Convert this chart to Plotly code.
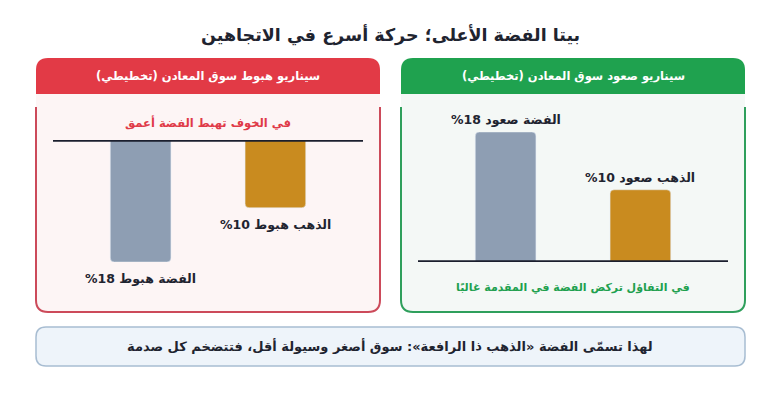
import plotly.graph_objects as go

# The page body has an 8px default margin; size the figure so the page is exactly 780x403.
OFF = 8
W, H = 780 - 2 * OFF, 403 - 2 * OFF
RLM = "\u200f"

# ---- data ----
categories = ["الفضة", "الذهب"]
down_values = [-18, -10]
up_values = [18, 10]
bar_colors = ["#8e9eb3", "#c98b1f"]

title_text = "بيتا الفضة الأعلى؛ حركة أسرع في الاتجاهين"
left_header = "سيناريو هبوط سوق المعادن (تخطيطي)"
right_header = "سيناريو صعود سوق المعادن (تخطيطي)"
left_note = "في الخوف تهبط الفضة أعمق"
right_note = "في التفاؤل تركض الفضة في المقدمة غالبًا"
bottom_text = "لهذا تسمّى الفضة «الذهب ذا الرافعة»: سوق أصغر وسيولة أقل، فتتضخم كل صدمة"
down_word = "هبوط"
up_word = "صعود"

FONT = "DejaVu Sans, Noto Sans, sans-serif"
DARK = "#1f2430"


def rtl(s):
    return RLM + s + RLM


def px(x):
    return (x - OFF) / W


def py(y):
    return 1 - (y - OFF) / H


def rpath(x0, y0, x1, y1, rtl_=0, rtr=0, rbr=0, rbl=0):
    pts = []
    pts.append(f"M {px(x0 + rtl_)},{py(y0)}")
    pts.append(f"L {px(x1 - rtr)},{py(y0)}")
    if rtr:
        pts.append(f"Q {px(x1)},{py(y0)} {px(x1)},{py(y0 + rtr)}")
    pts.append(f"L {px(x1)},{py(y1 - rbr)}")
    if rbr:
        pts.append(f"Q {px(x1)},{py(y1)} {px(x1 - rbr)},{py(y1)}")
    pts.append(f"L {px(x0 + rbl)},{py(y1)}")
    if rbl:
        pts.append(f"Q {px(x0)},{py(y1)} {px(x0)},{py(y1 - rbl)}")
    pts.append(f"L {px(x0)},{py(y0 + rtl_)}")
    if rtl_:
        pts.append(f"Q {px(x0)},{py(y0)} {px(x0 + rtl_)},{py(y0)}")
    pts.append("Z")
    return " ".join(pts)


def open_border(x0, ytop, x1, y1, r):
    return (f"M {px(x0)},{py(ytop)} L {px(x0)},{py(y1 - r)} "
            f"Q {px(x0)},{py(y1)} {px(x0 + r)},{py(y1)} "
            f"L {px(x1 - r)},{py(y1)} Q {px(x1)},{py(y1)} {px(x1)},{py(y1 - r)} "
            f"L {px(x1)},{py(ytop)}")


fig = go.Figure()

xpos = list(range(len(categories)))
fig.add_trace(go.Bar(x=xpos, y=down_values, marker=dict(color=bar_colors, cornerradius=4),
                     width=0.45, xaxis="x", yaxis="y", hoverinfo="skip", showlegend=False))
fig.add_trace(go.Bar(x=xpos, y=up_values, marker=dict(color=bar_colors, cornerradius=4),
                     width=0.45, xaxis="x2", yaxis="y2", hoverinfo="skip", showlegend=False))

shapes = []
panels = [
    dict(x0=36, x1=380, head="#e23a46", body="#fdf5f5", border="#cc4a5a"),
    dict(x0=401, x1=745, head="#1fa24f", body="#f4f8f6", border="#2f9f5c"),
]
for p in panels:
    shapes.append(dict(type="path", xref="paper", yref="paper", layer="below",
                       path=rpath(p["x0"], 94, p["x1"], 312, 0, 0, 12, 12),
                       fillcolor=p["body"], line=dict(width=0)))
    shapes.append(dict(type="path", xref="paper", yref="paper", layer="below",
                       path=open_border(p["x0"], 107, p["x1"], 312, 12),
                       line=dict(color=p["border"], width=2)))
    shapes.append(dict(type="path", xref="paper", yref="paper", layer="below",
                       path=rpath(p["x0"], 58, p["x1"], 94, 12, 12, 0, 0),
                       fillcolor=p["head"], line=dict(width=0)))

shapes.append(dict(type="path", xref="paper", yref="paper", layer="below",
                   path=rpath(36, 327, 745, 366, 10, 10, 10, 10),
                   fillcolor="#eef4fa", line=dict(color="#a8bdd2", width=1.5)))

# zero baselines
shapes.append(dict(type="line", xref="x domain", yref="y", x0=0, x1=1, y0=0, y1=0,
                   layer="above", line=dict(color="#1b1f2e", width=3.5)))
shapes.append(dict(type="line", xref="x2 domain", yref="y2", x0=0, x1=1, y0=0, y1=0,
                   layer="above", line=dict(color="#1b1f2e", width=3.5)))

ann = []


def pa(x, y, text, size, color, bold=True):
    ann.append(dict(xref="paper", yref="paper", x=px(x), y=py(y), text=(f"<b>{text}</b>" if bold else text),
                    showarrow=False, xanchor="center", yanchor="middle",
                    font=dict(family=FONT, size=size, color=color)))


pa(390, 35, rtl(title_text), 17.5, DARK)
pa(208, 76, rtl(left_header), 11.5, "#ffffff")
pa(573, 76, rtl(right_header), 11.5, "#ffffff")
pa(208, 123, rtl(left_note), 11.5, "#e03a48")
pa(573, 287, rtl(right_note), 11, "#20a04e")
pa(390, 346, rtl(bottom_text), 13, DARK)

for i, (c, v) in enumerate(zip(categories, down_values)):
    ann.append(dict(xref="x", yref="y", x=i, y=v, yanchor="top", yshift=-7, showarrow=False,
                    text=f"<b>{rtl(f'{c} {down_word} {abs(v)}%')}</b>",
                    font=dict(family=FONT, size=12.5, color=DARK)))
for i, (c, v) in enumerate(zip(categories, up_values)):
    ann.append(dict(xref="x2", yref="y2", x=i, y=v, yanchor="bottom", yshift=3, showarrow=False,
                    text=f"<b>{rtl(f'{c} {up_word} {abs(v)}%')}</b>",
                    font=dict(family=FONT, size=12.5, color=DARK)))

hidden = dict(visible=False, showgrid=False, zeroline=False, fixedrange=True)
fig.update_layout(
    width=W, height=H, autosize=False,
    margin=dict(l=0, r=0, t=0, b=0),
    paper_bgcolor="#ffffff", plot_bgcolor="rgba(0,0,0,0)",
    xaxis=dict(domain=[px(53), px(363)], range=[-0.65, 1.65], anchor="y", **hidden),
    yaxis=dict(domain=[py(262), py(140)], range=[-18, 0], anchor="x", **hidden),
    xaxis2=dict(domain=[px(418), px(728)], range=[-0.65, 1.65], anchor="y2", **hidden),
    yaxis2=dict(domain=[py(262), py(132)], range=[0, 18], anchor="x2", **hidden),
    shapes=shapes, annotations=ann, showlegend=False,
)

fig.write_html("out.html", config={"displayModeBar": False})
